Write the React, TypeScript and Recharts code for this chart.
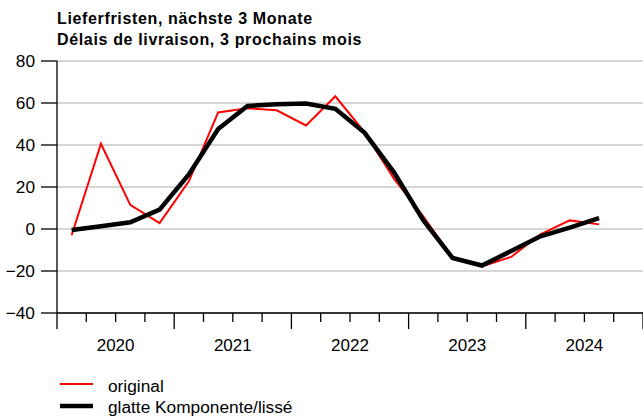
import React from 'react';
import { LineChart, Line, XAxis, YAxis, CartesianGrid } from 'recharts';

const titleLines = ['Lieferfristen, nächste 3 Monate', 'Délais de livraison, 3 prochains mois'];
const years = ['2020', '2021', '2022', '2023', '2024'];
const quarters = ['2020Q1','2020Q2','2020Q3','2020Q4','2021Q1','2021Q2','2021Q3','2021Q4','2022Q1','2022Q2','2022Q3','2022Q4','2023Q1','2023Q2','2023Q3','2023Q4','2024Q1','2024Q2','2024Q3'];
const original = [-3, 40.6, 11.5, 2.8, 22.7, 55.5, 57.5, 56.5, 49.3, 63.2, 46, 24, 6, -13.8, -17.8, -13.3, -2.5, 4.1, 2.2];
const smooth = [-0.5, 1.3, 3.2, 9.2, 26, 47.6, 58.6, 59.4, 59.8, 57.2, 45.8, 27, 4.2, -13.8, -17.4, -10.5, -3.5, 0.7, 5.2];
const seriesNames = ['original', 'glatte Komponente/lissé'];
const yTicks = [-40, -20, 0, 20, 40, 60, 80];
const xTicks = Array.from({ length: 21 }, (_, i) => i);

const data = quarters.map((q, i) => ({ q, x: i + 0.5, original: original[i], smooth: smooth[i] }));

const FONT = '"Liberation Sans", Arial, Helvetica, sans-serif';

const XTick = (props: any) => {
  const { x, y, payload } = props;
  const v = payload.value;
  const major = v % 4 === 0;
  return (
    <g>
      <line x1={x} x2={x} y1={y} y2={y + (major ? 16 : 9)} stroke="#000" strokeWidth={1.3} />
      {v % 4 === 2 && (
        <text x={x} y={y + 38} textAnchor="middle" fontSize={17} fontFamily={FONT} fill="#000">
          {years[(v - 2) / 4]}
        </text>
      )}
    </g>
  );
};

export default function App() {
  return (
    <div style={{ position: 'absolute', left: 0, top: 0, width: 643, height: 417, background: '#fff' }}>
      <svg width={643} height={50} style={{ position: 'absolute', left: 0, top: 0 }}>
        <text x={57} y={23.5} fontSize={16} fontWeight="bold" letterSpacing={0.65} fontFamily={FONT} fill="#000">{titleLines[0]}</text>
        <text x={57} y={44.5} fontSize={16} fontWeight="bold" letterSpacing={0.65} fontFamily={FONT} fill="#000">{titleLines[1]}</text>
      </svg>
      <LineChart width={643} height={417} data={data} margin={{ top: 61, right: 0, bottom: 0, left: 0 }}>
        <CartesianGrid horizontal vertical={false} stroke="#c8c8c8" strokeWidth={1.5} />
        <XAxis
          dataKey="x"
          type="number"
          domain={[0, 20]}
          ticks={xTicks}
          interval={0}
          tick={<XTick />}
          tickLine={false}
          tickSize={0}
          tickMargin={0}
          axisLine={{ stroke: '#000', strokeWidth: 1.3 }}
          height={104}
        />
        <YAxis
          type="number"
          domain={[-40, 80]}
          ticks={yTicks}
          interval={0}
          width={57}
          tickSize={16}
          tickMargin={6}
          tickLine={{ stroke: '#000', strokeWidth: 1.3 }}
          axisLine={{ stroke: '#000', strokeWidth: 1.3 }}
          tick={{ fill: '#000', fontSize: 17.3, fontFamily: FONT }}
          tickFormatter={(v: number) => String(v).replace('-', '\u2212')}
        />
        <Line dataKey="original" name={seriesNames[0]} stroke="#ff0000" strokeWidth={2} dot={false} isAnimationActive={false} />
        <Line dataKey="smooth" name={seriesNames[1]} stroke="#000" strokeWidth={4.5} dot={false} isAnimationActive={false} />
      </LineChart>
      <svg width={400} height={44} style={{ position: 'absolute', left: 0, top: 373 }}>
        <line x1={60} x2={93} y1={11} y2={11} stroke="#ff0000" strokeWidth={2} />
        <text x={108} y={19} fontSize={17.3} fontFamily={FONT} fill="#000">{seriesNames[0]}</text>
        <line x1={60} x2={93} y1={33} y2={33} stroke="#000" strokeWidth={4.5} />
        <text x={108} y={39.5} fontSize={17.3} fontFamily={FONT} fill="#000">{seriesNames[1]}</text>
      </svg>
    </div>
  );
}
